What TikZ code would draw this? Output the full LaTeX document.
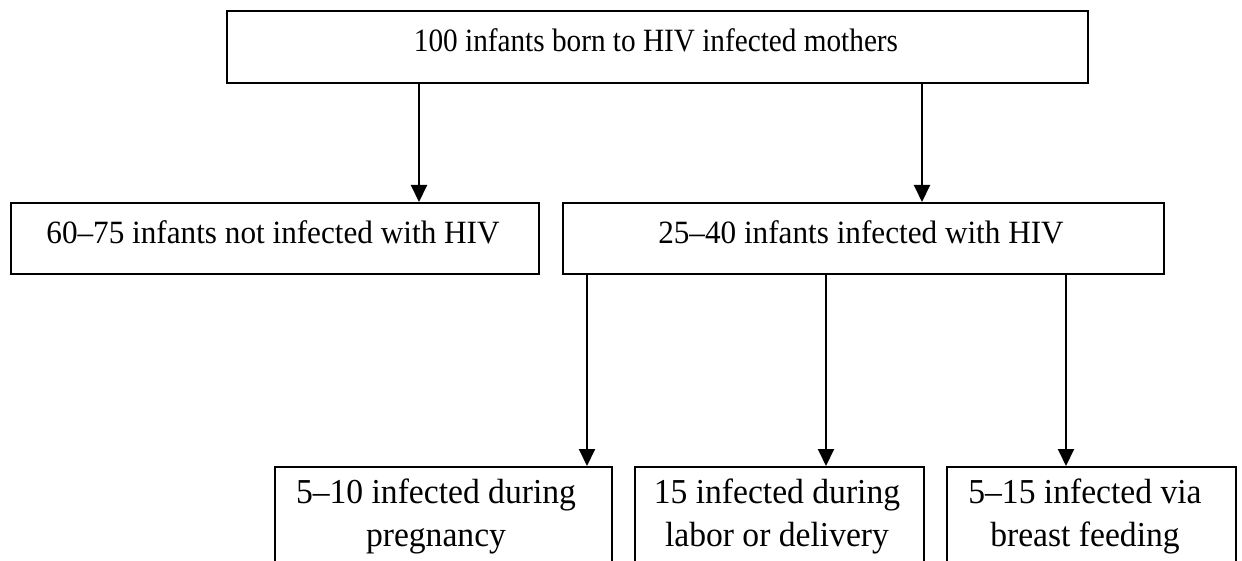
\documentclass[tikz,border=0pt]{standalone}
\usepackage{fontspec}
\setmainfont{Liberation Serif}[FakeStretch=0.96]
\newfontfamily\narrowserif{Liberation Serif}[FakeStretch=0.9]
\usetikzlibrary{arrows.meta}
\begin{document}
\begin{tikzpicture}[x=1pt,y=-1pt,
  boxstyle/.style={draw=black, line width=2pt, rectangle, inner sep=0pt, anchor=north west},
  labelstyle/.style={anchor=base, inner sep=0pt, align=center},
  toplabel/.style={labelstyle, font=\narrowserif\fontsize{32.5}{40}\selectfont},
  midlabel/.style={labelstyle, font=\fontsize{32.5}{40}\selectfont},
  lowlabel/.style={labelstyle, anchor=north, font=\fontsize{35}{43}\selectfont},
  arr/.style={draw=black, line width=2pt,
    -{Triangle[width=16pt,length=17pt]}}]
\useasboundingbox (0,0) rectangle (1242,561);
\clip (0,0) rectangle (1242,561);

% boxes
\node[boxstyle, minimum width=861pt, minimum height=72pt] (top) at (226,10) {};
\node[boxstyle, minimum width=528pt, minimum height=71pt] (notinf) at (10,202) {};
\node[boxstyle, minimum width=601pt, minimum height=71pt] (inf) at (562,202) {};
\node[boxstyle, minimum width=337pt, minimum height=140pt] (preg) at (274,466) {};
\node[boxstyle, minimum width=289pt, minimum height=140pt] (labor) at (634,466) {};
\node[boxstyle, minimum width=289pt, minimum height=140pt] (breast) at (946,466) {};

% texts
\node[toplabel] (ttop) at (656,52) {100 infants born to HIV infected mothers};
\node[midlabel] (tnotinf) at (273,243.5) {60–75 infants not infected with HIV};
\node[midlabel] (tinf) at (861,243.5) {25–40 infants infected with HIV};
\node[lowlabel] (tpreg) at (436,479) {5–10 infected during\\pregnancy};
\node[lowlabel] (tlabor) at (777,479) {15 infected during\\labor or delivery};
\node[lowlabel] (tbreast) at (1085,479) {5–15 infected via\\breast feeding};

% connector columns
\coordinate (c1) at (419,0);
\coordinate (c2) at (922,0);
\coordinate (c3) at (587,0);
\coordinate (c4) at (826,0);
\coordinate (c5) at (1066,0);

% connectors
\draw[arr] (top.south -| c1) -- (notinf.north -| c1);
\draw[arr] (top.south -| c2) -- (inf.north -| c2);
\draw[arr] (inf.south -| c3) -- (preg.north -| c3);
\draw[arr] (inf.south -| c4) -- (labor.north -| c4);
\draw[arr] (inf.south -| c5) -- (breast.north -| c5);
\end{tikzpicture}
\end{document}
